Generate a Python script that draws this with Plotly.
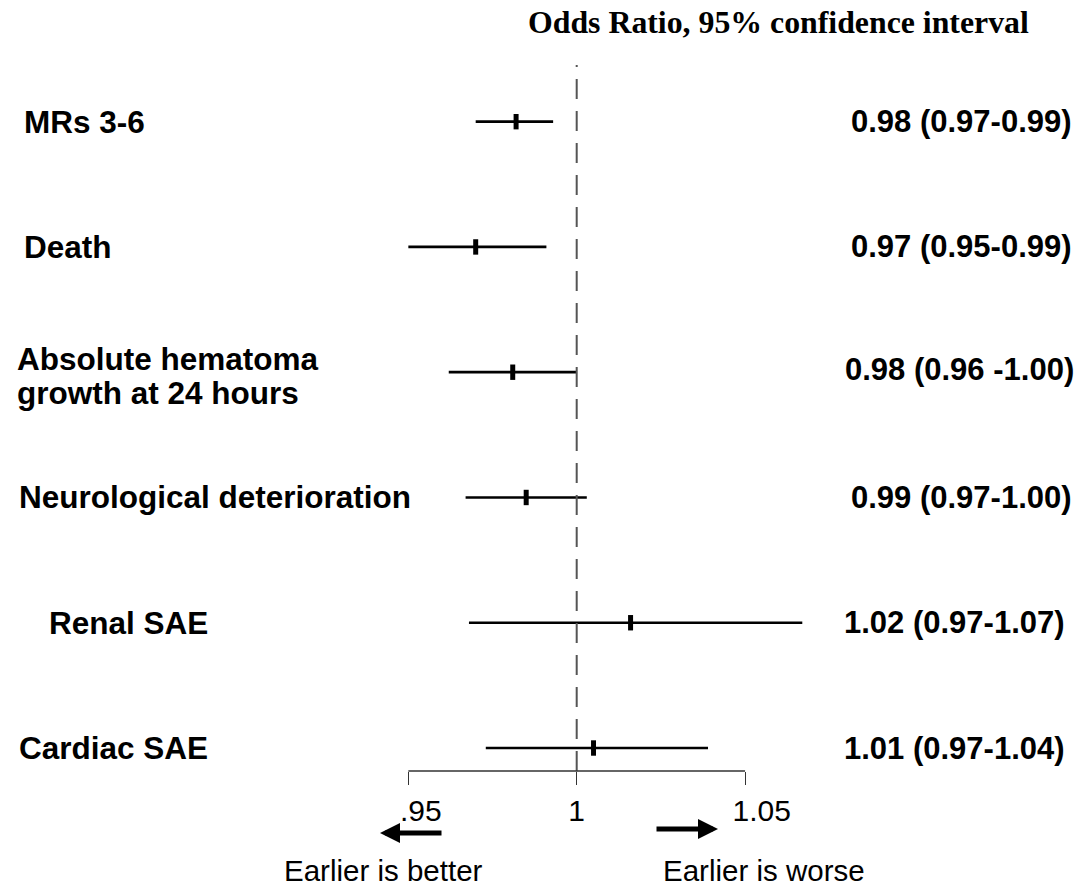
import plotly.graph_objects as go

# ---- data ----
outcomes = ["MRs 3-6", "Death", "Absolute hematoma<br>growth at 24 hours",
            "Neurological deterioration", "Renal SAE", "Cardiac SAE"]
odds_ratio = [0.982, 0.970, 0.981, 0.985, 1.016, 1.005]
ci_low = [0.970, 0.950, 0.962, 0.967, 0.968, 0.973]
ci_high = [0.993, 0.991, 1.000, 1.003, 1.067, 1.039]
or_text = ["0.98 (0.97-0.99)", "0.97 (0.95-0.99)", "0.98 (0.96 -1.00)",
           "0.99 (0.97-1.00)", "1.02 (0.97-1.07)", "1.01 (0.97-1.04)"]
tick_vals = [0.95, 1.0, 1.05]
tick_text = [".95", "1", "1.05"]
title_text = "Odds Ratio, 95% confidence interval"
left_note = "Earlier is better"
right_note = "Earlier is worse"

W, H = 1089, 892
TOP, BOTTOM = 65, 771  # plot area in px
SANS = "Liberation Sans, Arial"


def px_x(p):
    return p / W


def px_y(p):
    return (BOTTOM - p) / (BOTTOM - TOP)


rows = list(range(len(outcomes)))

fig = go.Figure()

# CI lines
xs, ys = [], []
for i, lo, hi in zip(rows, ci_low, ci_high):
    xs += [lo, hi, None]
    ys += [i, i, None]
fig.add_trace(go.Scatter(x=xs, y=ys, mode="lines",
                         line=dict(color="black", width=2.7),
                         hoverinfo="skip", showlegend=False))
# point estimates
fig.add_trace(go.Scatter(x=odds_ratio, y=rows, mode="markers",
                         marker=dict(symbol="line-ns", size=11,
                                     line=dict(color="black", width=5)),
                         showlegend=False))

# reference dashed line at 1
fig.add_shape(type="line", xref="x", yref="y domain", x0=1, x1=1, y0=0, y1=1,
              line=dict(color="#555555", width=2, dash="20px,12px"))
# axis line between outer ticks
fig.add_shape(type="line", xref="x", yref="y domain",
              x0=tick_vals[0], x1=tick_vals[-1], y0=0, y1=0,
              line=dict(color="#333333", width=1.3))

ann = []
label_x = [22, 22, 15, 17, 47, 17]
for i, (lab, lx) in enumerate(zip(outcomes, label_x)):
    lines = lab.split("<br>")
    shifts = [0] if len(lines) == 1 else [13, -21]
    for line, sh in zip(lines, shifts):
        ann.append(dict(x=px_x(lx), xref="paper", y=i, yref="y", yshift=sh,
                        text="<b>%s</b>" % line,
                        xanchor="left", yanchor="middle", align="left", showarrow=False,
                        font=dict(family=SANS, size=31.5, color="black")))
val_x = [849, 849, 843, 849, 842, 842]
val_shift = [0, 0, 3, 0, 0, 0]
for i, (t, vx, vs) in enumerate(zip(or_text, val_x, val_shift)):
    ann.append(dict(x=px_x(vx), xref="paper", y=i, yref="y", yshift=vs,
                    text="<b>%s</b>" % t,
                    xanchor="left", yanchor="middle", showarrow=False,
                    font=dict(family=SANS, size=31, color="black")))
ann.append(dict(x=px_x(778), xref="paper", y=px_y(22), yref="paper",
                text="<b>%s</b>" % title_text, showarrow=False,
                xanchor="center", yanchor="middle",
                font=dict(family="Liberation Serif, Times New Roman", size=31.8, color="black")))
# arrows
ann.append(dict(x=px_x(380), y=px_y(833), xref="paper", yref="paper", text="",
                showarrow=True, ax=63, ay=0, arrowhead=2, arrowwidth=5,
                arrowsize=0.8, arrowcolor="black"))
ann.append(dict(x=px_x(718), y=px_y(829), xref="paper", yref="paper", text="",
                showarrow=True, ax=-63, ay=0, arrowhead=2, arrowwidth=5,
                arrowsize=0.8, arrowcolor="black"))
ann.append(dict(x=px_x(383), y=px_y(870), xref="paper", yref="paper", text=left_note,
                showarrow=False, xanchor="center", yanchor="middle",
                font=dict(family=SANS, size=29.5, color="black")))
ann.append(dict(x=px_x(764), y=px_y(870), xref="paper", yref="paper", text=right_note,
                showarrow=False, xanchor="center", yanchor="middle",
                font=dict(family=SANS, size=29.5, color="black")))

# tick labels sit slightly right of their ticks in the reference
NB = "\u00a0"
tick_pad = [3, 0, 4]
tick_labels = [NB * p + t for p, t in zip(tick_pad, tick_text)]

fig.update_layout(
    width=W, height=H,
    margin=dict(l=0, r=0, t=TOP, b=H - BOTTOM, pad=0),
    plot_bgcolor="white", paper_bgcolor="white",
    annotations=ann,
    showlegend=False,
    xaxis=dict(range=[1 - 576.7 / 3367, 1 + (W - 576.7) / 3367],
               tickvals=tick_vals, ticktext=tick_labels,
               ticks="outside", ticklen=13, tickwidth=1.3, tickcolor="#333333",
               showgrid=False, zeroline=False, showline=False,
               tickfont=dict(family=SANS, size=30, color="black")),
    yaxis=dict(range=[5 + (BOTTOM - 748) / 125.3, -(121.7 - TOP) / 125.3],
               showticklabels=False, showgrid=False, zeroline=False, ticks=""),
)

fig.write_html("out.html", config={"displayModeBar": False},
               post_script="document.body.style.margin='0';")
